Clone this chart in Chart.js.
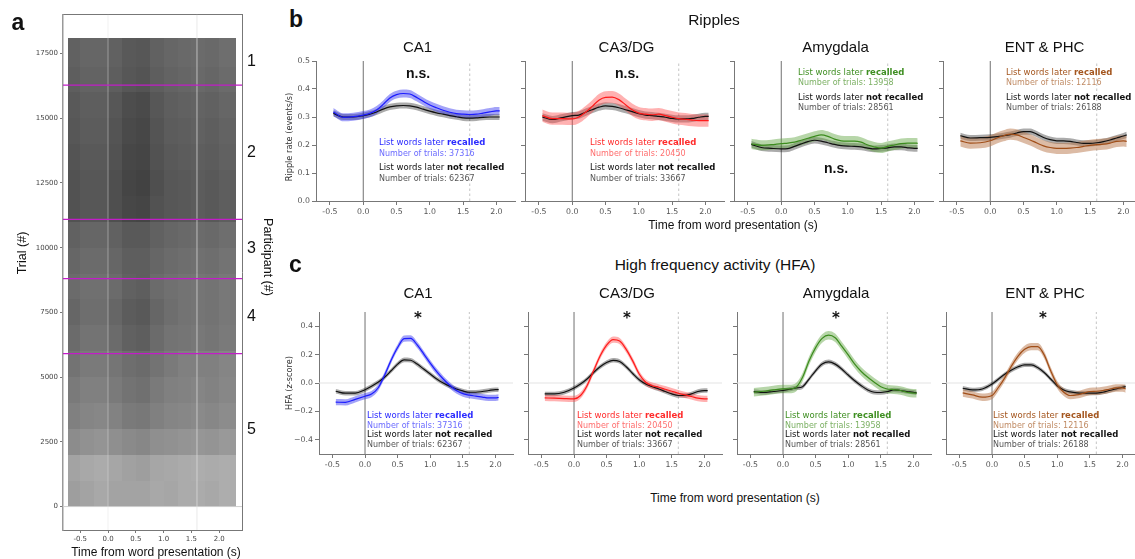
<!DOCTYPE html>
<html><head><meta charset="utf-8">
<script src="https://cdn.jsdelivr.net/npm/chart.js@4.4.1/dist/chart.umd.min.js"></script>
<style>
html,body{margin:0;padding:0;background:#fff;overflow:hidden;}
#root{position:relative;width:1135px;height:559px;overflow:hidden;background:#fff;}
canvas{position:absolute;}
.t{position:absolute;white-space:nowrap;line-height:1;}
</style></head><body><div id="root"></div>
<script>
// ---------------- DATA ----------------
const timePts = [-0.45,-0.3,-0.15,0,0.1,0.2,0.3,0.4,0.5,0.6,0.7,0.8,0.9,1.0,1.1,1.2,1.3,1.4,1.5,1.6,1.7,1.8,1.9,2.0,2.05];
const regions = ['CA1','CA3/DG','Amygdala','ENT &amp; PHC'];
const trialsRecalled = [37316, 20450, 13958, 12116];
const trialsNotRecalled = [62367, 33667, 28561, 26188];

const ripRecCA1 = [0.318,0.299,0.301,0.307,0.313,0.325,0.345,0.368,0.380,0.384,0.382,0.370,0.356,0.343,0.333,0.324,0.317,0.312,0.310,0.309,0.310,0.314,0.318,0.322,0.322];
const ripNotCA1 = [0.313,0.300,0.300,0.305,0.310,0.318,0.328,0.336,0.340,0.341,0.340,0.335,0.328,0.321,0.315,0.310,0.305,0.301,0.297,0.296,0.297,0.299,0.300,0.300,0.300];
const ripRecCA3 = [0.305,0.294,0.294,0.293,0.300,0.317,0.338,0.360,0.370,0.371,0.362,0.344,0.326,0.314,0.310,0.308,0.310,0.305,0.299,0.294,0.292,0.289,0.287,0.287,0.287];
const ripNotCA3 = [0.300,0.291,0.298,0.305,0.307,0.317,0.326,0.335,0.340,0.338,0.333,0.326,0.319,0.312,0.307,0.305,0.302,0.299,0.295,0.293,0.293,0.295,0.299,0.302,0.302];
const ripRecAMY = [0.204,0.199,0.201,0.205,0.207,0.210,0.217,0.224,0.231,0.236,0.231,0.221,0.215,0.214,0.214,0.210,0.200,0.193,0.189,0.195,0.200,0.205,0.207,0.207,0.206];
const ripNotAMY = [0.202,0.191,0.188,0.186,0.187,0.195,0.204,0.212,0.217,0.214,0.208,0.202,0.198,0.196,0.195,0.193,0.189,0.186,0.188,0.190,0.193,0.193,0.190,0.188,0.188];
const ripRecENT = [0.215,0.207,0.208,0.215,0.225,0.233,0.239,0.236,0.227,0.218,0.207,0.197,0.191,0.188,0.188,0.189,0.191,0.195,0.199,0.201,0.203,0.207,0.213,0.215,0.213];
const ripNotENT = [0.233,0.225,0.226,0.227,0.230,0.233,0.237,0.243,0.248,0.248,0.239,0.227,0.219,0.215,0.215,0.213,0.209,0.206,0.206,0.208,0.212,0.218,0.225,0.232,0.236];
const ripSemRec = [0.014, 0.022, 0.018, 0.02];
const ripSemNot = [0.011, 0.013, 0.012, 0.011];

const hfaRecCA1 = [-0.135,-0.136,-0.115,-0.093,-0.078,-0.035,0.055,0.16,0.25,0.312,0.314,0.268,0.205,0.14,0.08,0.028,-0.016,-0.052,-0.075,-0.086,-0.092,-0.099,-0.105,-0.105,-0.102];
const hfaNotCA1 = [-0.058,-0.072,-0.072,-0.047,-0.023,0.005,0.04,0.086,0.133,0.163,0.16,0.133,0.098,0.063,0.028,0.0,-0.023,-0.042,-0.056,-0.065,-0.065,-0.06,-0.053,-0.047,-0.047];
const hfaRecCA3 = [-0.105,-0.107,-0.11,-0.112,-0.088,-0.019,0.086,0.19,0.267,0.305,0.295,0.237,0.156,0.063,0.005,-0.019,-0.03,-0.044,-0.058,-0.072,-0.084,-0.095,-0.107,-0.112,-0.112];
const hfaNotCA3 = [-0.077,-0.077,-0.065,-0.035,-0.007,0.028,0.074,0.114,0.144,0.16,0.151,0.114,0.067,0.023,-0.007,-0.026,-0.042,-0.06,-0.077,-0.088,-0.088,-0.077,-0.06,-0.053,-0.053];
const hfaRecAMY = [-0.065,-0.058,-0.049,-0.042,-0.042,-0.03,0.04,0.156,0.249,0.314,0.337,0.319,0.26,0.198,0.133,0.081,0.04,0.005,-0.026,-0.042,-0.047,-0.053,-0.065,-0.072,-0.072];
const hfaNotAMY = [-0.06,-0.067,-0.06,-0.053,-0.044,-0.035,-0.026,0.028,0.086,0.133,0.149,0.133,0.098,0.056,0.016,-0.019,-0.049,-0.065,-0.067,-0.06,-0.049,-0.053,-0.06,-0.065,-0.07];
const hfaRecENT = [-0.07,-0.084,-0.1,-0.088,-0.03,0.04,0.121,0.19,0.237,0.256,0.256,0.198,0.086,-0.012,-0.065,-0.088,-0.084,-0.072,-0.06,-0.058,-0.053,-0.044,-0.035,-0.035,-0.042];
const hfaNotENT = [-0.037,-0.049,-0.042,-0.007,0.028,0.063,0.091,0.114,0.128,0.128,0.109,0.074,0.028,-0.019,-0.049,-0.063,-0.07,-0.072,-0.072,-0.072,-0.065,-0.053,-0.042,-0.03,-0.026];
const hfaSemRec = [0.022, 0.022, 0.03, 0.026];
const hfaSemNot = [0.016, 0.016, 0.016, 0.015];

const xTickVals = [-0.5, 0, 0.5, 1, 1.5, 2];
const ripYTicks = [0, 0.1, 0.2, 0.3, 0.4, 0.5];
const hfaYTicks = [-0.4, -0.2, 0, 0.2, 0.4];
const refTimes = [0, 1.6];

// raster (panel a): darkness of the spike raster per time bin x trial bin
const rasterYTicks = [0, 2500, 5000, 7500, 10000, 12500, 15000, 17500];
const participantEdges = [0, 5909, 8807, 11094, 16280, 18100];
const participantLabels = ['5', '4', '3', '2', '1'];
const rasterTimeEdges = [-0.72,-0.5,-0.25,0,0.25,0.5,0.75,1,1.25,1.5,1.75,2,2.31];
const rasterTrialEdges = [0,1000,2000,3000,4000,5000,6000,7000,8000,9000,10000,11000,12000,13000,14000,15000,16000,17000,18100];
const rasterDensity = [
  [0.38,0.36,0.34,0.36,0.36,0.36,0.34,0.35,0.33,0.33,0.34,0.32],
  [0.36,0.34,0.33,0.35,0.37,0.38,0.35,0.34,0.33,0.32,0.33,0.32],
  [0.45,0.43,0.42,0.44,0.46,0.47,0.44,0.43,0.42,0.41,0.42,0.40],
  [0.50,0.48,0.47,0.49,0.52,0.53,0.50,0.48,0.47,0.46,0.47,0.45],
  [0.52,0.50,0.50,0.52,0.55,0.56,0.52,0.50,0.49,0.48,0.49,0.47],
  [0.55,0.52,0.52,0.54,0.57,0.58,0.55,0.52,0.50,0.50,0.50,0.48],
  [0.58,0.55,0.55,0.58,0.62,0.63,0.58,0.55,0.54,0.53,0.54,0.52],
  [0.60,0.57,0.57,0.60,0.64,0.65,0.60,0.57,0.55,0.54,0.55,0.53],
  [0.58,0.56,0.56,0.58,0.62,0.63,0.58,0.56,0.55,0.54,0.55,0.53],
  [0.60,0.58,0.58,0.60,0.63,0.63,0.60,0.58,0.57,0.56,0.57,0.55],
  [0.62,0.60,0.60,0.62,0.65,0.65,0.62,0.60,0.59,0.58,0.59,0.57],
  [0.68,0.66,0.66,0.69,0.72,0.73,0.68,0.66,0.65,0.64,0.65,0.63],
  [0.68,0.66,0.66,0.69,0.73,0.74,0.69,0.66,0.65,0.64,0.65,0.63],
  [0.67,0.65,0.65,0.68,0.72,0.73,0.68,0.65,0.64,0.63,0.64,0.62],
  [0.66,0.64,0.64,0.67,0.71,0.72,0.67,0.64,0.63,0.62,0.63,0.61],
  [0.65,0.63,0.63,0.66,0.70,0.71,0.66,0.63,0.62,0.61,0.62,0.60],
  [0.63,0.61,0.61,0.63,0.66,0.67,0.63,0.61,0.60,0.59,0.60,0.58],
  [0.62,0.60,0.60,0.62,0.65,0.66,0.62,0.60,0.59,0.58,0.59,0.57]
];

// ---------------- STYLE ----------------
const recColor = ['#1c1cff', '#ff1a1a', '#3c8c1e', '#a14e18'];
const recBand = ['rgba(50,50,240,0.45)', 'rgba(255,70,70,0.42)', 'rgba(95,165,65,0.45)', 'rgba(185,120,75,0.5)'];
const recText = ['#2b2bff', '#ff2b2b', '#3f8f22', '#a4561f'];
const recNumText = ['#6b6bff', '#ff6e6e', '#7db165', '#c08b64'];

Chart.defaults.font.family = "'DejaVu Sans', sans-serif";
const root = document.getElementById('root');
const TICKC = '#555', SPINE = '#777';

function mkCanvas(l, t, w, h) {
  const c = document.createElement('canvas');
  c.width = w; c.height = h;
  c.style.left = l + 'px'; c.style.top = t + 'px';
  c.style.width = w + 'px'; c.style.height = h + 'px';
  root.appendChild(c);
  return c;
}
function fixedTicks(vals) { return s => { s.ticks = vals.map(v => ({value: v})); }; }
function T(html, x, y, css, anchor, rot) {
  const d = document.createElement('div');
  d.className = 't';
  d.innerHTML = html;
  d.style.cssText += css;
  d.style.left = x + 'px'; d.style.top = y + 'px';
  const tr = anchor === 'l' ? 'translate(0,-50%)' : 'translate(-50%,-50%)';
  d.style.transform = tr + (rot ? ' rotate(' + rot + 'deg)' : '');
  root.appendChild(d);
}

// ---------------- PANEL a (raster) ----------------
(function () {
  const xmin = -0.81, xmax = 2.41, ymin = -905, ymax = 19005;
  const c = mkCanvas(13, 0, 253, 554);
  const rasterPlugin = {
    id: 'raster',
    beforeDatasetsDraw(chart) {
      const {ctx, scales: {x, y}} = chart;
      ctx.save();
      for (let r = 0; r < rasterDensity.length; r++) {
        for (let k = 0; k < rasterDensity[r].length; k++) {
          const d = rasterDensity[r][k];
          const g = Math.round(255 * (1 - d));
          ctx.fillStyle = 'rgb(' + g + ',' + g + ',' + g + ')';
          const x0 = Math.round(x.getPixelForValue(rasterTimeEdges[k]));
          const x1 = Math.round(x.getPixelForValue(rasterTimeEdges[k + 1]));
          const y0 = Math.round(y.getPixelForValue(rasterTrialEdges[r]));
          const y1 = Math.round(y.getPixelForValue(rasterTrialEdges[r + 1]));
          ctx.fillRect(x0, y1, x1 - x0, y0 - y1);
        }
      }
      ctx.restore();
    }
  };
  const ds = [];
  participantEdges.slice(1, -1).forEach(e => ds.push({data: [{x: xmin, y: e}, {x: xmax, y: e}], borderColor: '#c21cc8', borderWidth: 1.2, pointRadius: 0, order: 0}));
  ds.push({data: [{x: refTimes[0], y: ymin}, {x: refTimes[0], y: ymax}], borderColor: 'rgba(225,225,225,0.45)', borderWidth: 1, pointRadius: 0, order: 2});
  ds.push({data: [{x: refTimes[1], y: ymin}, {x: refTimes[1], y: ymax}], borderColor: 'rgba(225,225,225,0.7)', borderWidth: 1, pointRadius: 0, order: 2});
  ds.push({data: [{x: xmin, y: 0}, {x: xmax, y: 0}], borderColor: '#cfcfcf', borderWidth: 1, pointRadius: 0, order: 3});
  const mids = participantEdges.slice(0, -1).map((e, i) => (e + participantEdges[i + 1]) / 2);
  new Chart(c, {
    type: 'line',
    data: {datasets: ds},
    plugins: [rasterPlugin],
    options: {
      responsive: false, animation: false, devicePixelRatio: 1,
      layout: {padding: {top: 8, left: 0, right: 0, bottom: 0}},
      plugins: {legend: {display: false}, tooltip: {enabled: false}},
      scales: {
        x: {type: 'linear', position: 'bottom', min: xmin, max: xmax,
          afterBuildTicks: fixedTicks(xTickVals), afterFit: s => { s.height = 24; },
          ticks: {callback: v => v.toFixed(1), color: '#444', font: {size: 7}, padding: 2, autoSkip: false, maxRotation: 0},
          grid: {drawOnChartArea: false, tickLength: 3, color: SPINE}, border: {display: true, color: SPINE}},
        xTop: {type: 'linear', position: 'top', min: xmin, max: xmax,
          ticks: {display: false}, grid: {drawOnChartArea: false, drawTicks: false, color: SPINE},
          border: {display: true, color: SPINE}, afterFit: s => { s.height = 0; }},
        y: {type: 'linear', position: 'left', min: ymin, max: ymax,
          afterBuildTicks: fixedTicks(rasterYTicks), afterFit: s => { s.width = 50; },
          ticks: {callback: v => String(v), color: '#444', font: {size: 7}, padding: 2, autoSkip: false},
          grid: {drawOnChartArea: false, tickLength: 3, color: SPINE}, border: {display: true, color: '#999', width: 1.5}},
        yR: {type: 'linear', position: 'right', min: ymin, max: ymax,
          afterBuildTicks: fixedTicks(mids), afterFit: s => { s.width = 24; },
          ticks: {callback: (v, i) => participantLabels[i], color: '#111', font: {family: "'Liberation Sans', Arial, sans-serif", size: 16}, padding: 5, autoSkip: false},
          grid: {drawOnChartArea: false, drawTicks: false, color: SPINE}, border: {display: true, color: SPINE}}
      }
    }
  });
  const ARIAL = "font-family:'Liberation Sans',Arial,sans-serif;color:#111;";
  T('a', 18, 22, ARIAL + 'font-weight:bold;font-size:23px;');
  T('Trial (#)', 22, 253, ARIAL + 'font-size:12.5px;', 'c', -90);
  T('Participant (#)', 268, 257, ARIAL + 'font-size:12.5px;', 'c', 90);
  T('Time from word presentation (s)', 156, 551.5, ARIAL + 'font-size:12px;');
})();

// ---------------- PANELS b / c ----------------
function subplot(cfg) {
  const yW = 36, pT = 8, pR = 8, xH = 20;
  const c = mkCanvas(cfg.L - yW, cfg.T - pT, yW + cfg.W + pR, pT + cfg.H + xH);
  const line = (arr, off) => timePts.map((t, i) => ({x: t, y: arr[i] + off}));
  const cv = {tension: 0.4, cubicInterpolationMode: 'monotone', pointRadius: 0};
  const ds = [
    {...cv, data: line(cfg.rec, 0), borderColor: cfg.color, borderWidth: 1.2, fill: false, order: 0},
    {...cv, data: line(cfg.not, 0), borderColor: '#111', borderWidth: 1.2, fill: false, order: 1},
    {...cv, data: line(cfg.rec, cfg.semR), borderWidth: 0, borderColor: 'rgba(0,0,0,0)', fill: false, order: 3},
    {...cv, data: line(cfg.rec, -cfg.semR), borderWidth: 0, borderColor: 'rgba(0,0,0,0)', fill: '-1', backgroundColor: cfg.band, order: 3},
    {...cv, data: line(cfg.not, cfg.semN), borderWidth: 0, borderColor: 'rgba(0,0,0,0)', fill: false, order: 4},
    {...cv, data: line(cfg.not, -cfg.semN), borderWidth: 0, borderColor: 'rgba(0,0,0,0)', fill: '-1', backgroundColor: 'rgba(0,0,0,0.33)', order: 4},
    {data: [{x: refTimes[0], y: cfg.ymin}, {x: refTimes[0], y: cfg.ymax}], borderColor: '#707070', borderWidth: 1, pointRadius: 0, order: 9},
    {data: [{x: refTimes[1], y: cfg.ymin}, {x: refTimes[1], y: cfg.ymax}], borderColor: '#c4c4c4', borderWidth: 1, borderDash: [2.5, 2.5], pointRadius: 0, order: 9}
  ];
  if (cfg.zero) ds.push({data: [{x: cfg.xmin, y: 0}, {x: cfg.xmax, y: 0}], borderColor: '#e3e3e3', borderWidth: 1, pointRadius: 0, order: 10});
  new Chart(c, {
    type: 'line',
    data: {datasets: ds},
    options: {
      responsive: false, animation: false, devicePixelRatio: 1,
      layout: {padding: {top: pT, right: pR, left: 0, bottom: 0}},
      plugins: {legend: {display: false}, tooltip: {enabled: false}},
      scales: {
        x: {type: 'linear', min: cfg.xmin, max: cfg.xmax,
          afterBuildTicks: fixedTicks(xTickVals), afterFit: s => { s.height = xH; },
          ticks: {callback: v => v.toFixed(1), color: TICKC, font: {size: 7.8}, padding: 2, autoSkip: false, maxRotation: 0},
          grid: {drawOnChartArea: false, tickLength: 4, color: SPINE}, border: {display: true, color: SPINE}},
        y: {type: 'linear', min: cfg.ymin, max: cfg.ymax,
          afterBuildTicks: fixedTicks(cfg.yTicks), afterFit: s => { s.width = yW; },
          ticks: {callback: v => cfg.showY ? v.toFixed(1).replace('-', '\u2212') : '', color: TICKC, font: {size: 7.8}, padding: 2, autoSkip: false},
          grid: {drawOnChartArea: false, tickLength: 4, color: SPINE}, border: {display: true, color: SPINE}}
      }
    }
  });
}

const ripRec = [ripRecCA1, ripRecCA3, ripRecAMY, ripRecENT];
const ripNot = [ripNotCA1, ripNotCA3, ripNotAMY, ripNotENT];
const hfaRec = [hfaRecCA1, hfaRecCA3, hfaRecAMY, hfaRecENT];
const hfaNot = [hfaNotCA1, hfaNotCA3, hfaNotAMY, hfaNotENT];
const bLeft = [316, 525, 734, 943];
const cLeft = [319, 528, 737, 946];

const DJ = "font-family:'DejaVu Sans',sans-serif;";
const AR = "font-family:'Liberation Sans',Arial,sans-serif;color:#111;";

function legend(i, x, ys) {
  T('List words later <b>recalled</b>', x, ys[0], DJ + 'font-size:8.5px;color:' + recText[i] + ';', 'l');
  T('Number of trials: ' + trialsRecalled[i], x, ys[1], DJ + 'font-size:8px;color:' + recNumText[i] + ';', 'l');
  T('List words later <b>not recalled</b>', x, ys[2], DJ + 'font-size:8.5px;color:#111;', 'l');
  T('Number of trials: ' + trialsNotRecalled[i], x, ys[3], DJ + 'font-size:8px;color:#555;', 'l');
}

for (let i = 0; i < 4; i++) {
  subplot({L: bLeft[i], T: 61, W: 199, H: 140, xmin: -0.71, xmax: 2.28, ymin: 0, ymax: 0.5,
    yTicks: ripYTicks, showY: i === 0, rec: ripRec[i], not: ripNot[i], semR: ripSemRec[i], semN: ripSemNot[i],
    color: recColor[i], band: recBand[i], zero: false});
  subplot({L: cLeft[i], T: 312, W: 194, H: 142, xmin: -0.706, xmax: 2.27, ymin: -0.5, ymax: 0.5,
    yTicks: hfaYTicks, showY: i === 0, rec: hfaRec[i], not: hfaNot[i], semR: hfaSemRec[i], semN: hfaSemNot[i],
    color: recColor[i], band: recBand[i], zero: true});
  T(regions[i], bLeft[i] + 101.5, 45.7, AR + 'font-size:15px;');
  T(regions[i], cLeft[i] + 99, 292, AR + 'font-size:15px;');
}

// significance marks
const bNs = [[418, 72.5], [627, 72.5], [836, 168], [1043, 168]];
bNs.forEach(p => T('n.s.', p[0], p[1], AR + 'font-weight:bold;font-size:14px;'));
const cStar = [[418, 318], [627, 318], [836, 318], [1043, 318]];
cStar.forEach(p => T('*', p[0], p[1], DJ + 'font-weight:bold;font-size:15px;color:#111;'));

// legends
const bLegX = [379, 590, 798, 1006];
const bLegY = [[142, 154, 166.7, 178.7], [142, 154, 166.7, 178.7], [72, 83.3, 96.7, 108.3], [72, 83.3, 96.7, 108.3]];
const cLegX = [367, 577, 785, 993];
const cLegY = [415.3, 426, 434.1, 444.5];
for (let i = 0; i < 4; i++) { legend(i, bLegX[i], bLegY[i]); legend(i, cLegX[i], cLegY); }

// headings & axis labels
T('b', 296, 18.5, AR + 'font-weight:bold;font-size:23px;');
T('c', 295.5, 263.5, AR + 'font-weight:bold;font-size:23px;');
T('Ripples', 714, 20, AR + 'font-size:15.5px;');
T('High frequency activity (HFA)', 715, 265, AR + 'font-size:15.5px;');
T('Ripple rate (events/s)', 289, 137, DJ + 'font-size:8.2px;color:#333;', 'c', -90);
T('HFA (z-score)', 288.5, 383, DJ + 'font-size:8.2px;color:#333;', 'c', -90);
T('Time from word presentation (s)', 733, 224.5, AR + 'font-size:12px;');
T('Time from word presentation (s)', 735, 498, AR + 'font-size:12px;');
</script>
</body></html>
